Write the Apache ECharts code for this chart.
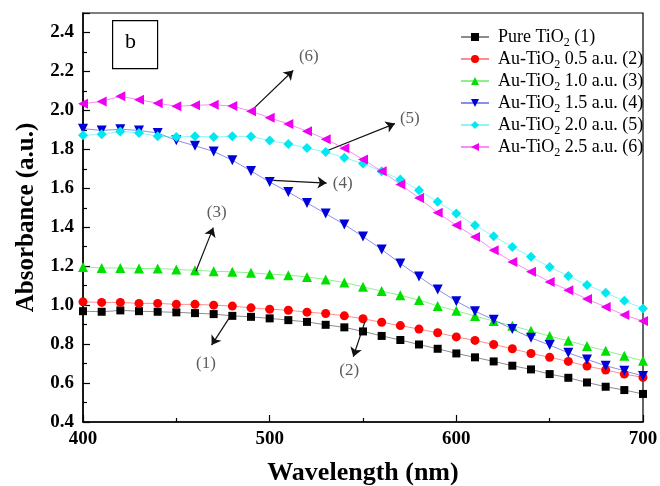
<!DOCTYPE html>
<html><head><meta charset="utf-8">
<script src="https://cdn.jsdelivr.net/npm/echarts@6/dist/echarts.min.js"></script>
<style>html,body{margin:0;padding:0;background:#fff}#c{width:660px;height:486px}</style>
</head><body><div id="c"></div>
<script>
const wavelengths = [400,410,420,430,440,450,460,470,480,490,500,510,520,530,540,550,560,570,580,590,600,610,620,630,640,650,660,670,680,690,700];
const pure = [0.969,0.966,0.973,0.969,0.966,0.963,0.959,0.954,0.945,0.940,0.932,0.923,0.914,0.899,0.886,0.865,0.842,0.821,0.798,0.776,0.752,0.732,0.711,0.689,0.670,0.646,0.627,0.603,0.581,0.564,0.544];
const au05 = [1.017,1.014,1.014,1.009,1.009,1.004,1.004,1.000,0.995,0.986,0.979,0.974,0.964,0.957,0.945,0.930,0.912,0.895,0.877,0.858,0.837,0.819,0.798,0.776,0.752,0.732,0.711,0.687,0.667,0.646,0.629];
const au10 = [1.196,1.191,1.191,1.188,1.188,1.183,1.179,1.174,1.171,1.166,1.159,1.154,1.145,1.132,1.116,1.094,1.072,1.051,1.026,0.996,0.971,0.944,0.918,0.894,0.868,0.841,0.817,0.790,0.766,0.740,0.714];
const au15 = [1.906,1.897,1.903,1.897,1.884,1.846,1.818,1.789,1.744,1.689,1.632,1.581,1.525,1.470,1.414,1.352,1.286,1.214,1.147,1.080,1.020,0.969,0.925,0.877,0.832,0.795,0.755,0.721,0.689,0.663,0.636];
const au20 = [1.872,1.877,1.892,1.884,1.867,1.863,1.867,1.863,1.867,1.866,1.845,1.828,1.807,1.786,1.757,1.727,1.687,1.645,1.590,1.531,1.470,1.410,1.354,1.299,1.248,1.196,1.150,1.103,1.063,1.022,0.983];
const au25 = [2.034,2.046,2.072,2.055,2.037,2.021,2.026,2.029,2.022,1.996,1.962,1.930,1.893,1.852,1.805,1.748,1.688,1.620,1.550,1.474,1.410,1.350,1.282,1.222,1.171,1.119,1.077,1.031,0.991,0.949,0.918];

const seriesNames = ['Pure TiO2 (1)','Au-TiO2 0.5 a.u. (2)','Au-TiO2 1.0 a.u. (3)','Au-TiO2 1.5 a.u. (4)','Au-TiO2 2.0 a.u. (5)','Au-TiO2 2.5 a.u. (6)'];
const legendPre = ['Pure TiO','Au-TiO','Au-TiO','Au-TiO','Au-TiO','Au-TiO'];
const legendPost = [' (1)',' 0.5 a.u. (2)',' 1.0 a.u. (3)',' 1.5 a.u. (4)',' 2.0 a.u. (5)',' 2.5 a.u. (6)'];
const seriesValues = [pure, au05, au10, au15, au20, au25];

const xTicks = [400,500,600,700];
const yTicks = [0.4,0.6,0.8,1.0,1.2,1.4,1.6,1.8,2.0,2.2,2.4];

// annotation arrows
const annLabels = ['(1)','(2)','(3)','(4)','(5)','(6)'];
const annFrom = [[478.7,0.940],[551,0.914],[460.5,1.174],[501.9,1.641],[531.4,1.795],[490.4,2.000]];
const annTo = [[468.9,0.795],[544.8,0.735],[469.8,1.398],[530.5,1.627],[567.1,1.932],[512.6,2.205]];
const annText = [[465.9,0.700],[542.6,0.662],[471.6,1.478],[539.1,1.624],[575.1,1.957],[521,2.277]];

const colors = ['#000000','#ff0000','#00e000','#0000d8','#00e8f0','#f000f0'];
const symbols = ['rect','circle','triangle','triangle','diamond','triangle'];
const symbolSizes = [8,9,10,10,10,10];
const symbolRot = [0,0,0,180,0,90];

const serif = '"Liberation Serif","Times New Roman",serif';

const series = seriesValues.map((vals,i)=>({
  name: seriesNames[i], type:'line',
  data: vals.map((v,j)=>[wavelengths[j], v]),
  symbol: symbols[i], symbolSize: symbolSizes[i], symbolRotate: symbolRot[i],
  showAllSymbol: true,
  itemStyle:{color: colors[i], opacity:1},
  lineStyle:{color: colors[i], width:1, opacity:0.45},
  z: 2+i, animation:false
}));

series.push({
  type:'line', name:'ann-arrows', data:[], silent:true, animation:false,
  markLine:{
    silent:true, symbol:['none','arrow'], symbolSize:9,
    lineStyle:{color:'#111', width:1.2, type:'solid'},
    label:{show:false},
    data: annFrom.map((f,i)=>[{coord:f},{coord:annTo[i]}]),
    animation:false
  }
});
series.push({
  type:'scatter', name:'ann-labels', symbolSize:0, silent:true, animation:false,
  data: annText.map((p,i)=>({value:p, name:annLabels[i]})),
  label:{show:true, position:'inside', formatter:p=>p.name, color:'#333', fontFamily:serif, fontSize:17}
});

const chart = echarts.init(document.getElementById('c'), null, {renderer:'canvas'});
chart.setOption({
  animation:false,
  backgroundColor:'#fff',
  grid:{left:83, right:17, top:13, bottom:64, containLabel:false, outerBoundsMode:'none',
        show:true, borderColor:'#000', borderWidth:1.2, backgroundColor:'transparent'},
  xAxis:{
    type:'value', min:xTicks[0], max:xTicks[xTicks.length-1], interval:100,
    axisLine:{show:true, lineStyle:{color:'#000', width:1.5}},
    axisTick:{show:true, inside:true, length:7, lineStyle:{color:'#000', width:1.2}},
    minorTick:{show:true, splitNumber:2, length:4, lineStyle:{color:'#000', width:1.2}},
    splitLine:{show:false},
    axisLabel:{color:'#000', fontFamily:serif, fontWeight:'bold', fontSize:19, margin:8},
    name:'Wavelength (nm)', nameLocation:'middle', nameGap:38,
    nameTextStyle:{color:'#000', fontFamily:serif, fontWeight:'bold', fontSize:26}
  },
  yAxis:{
    type:'value', min:0.4, max:2.5, interval:0.2,
    axisLine:{show:true, lineStyle:{color:'#000', width:1.5}},
    axisTick:{show:true, inside:true, length:7, lineStyle:{color:'#000', width:1.2}},
    minorTick:{show:true, splitNumber:2, length:4, lineStyle:{color:'#000', width:1.2}},
    splitLine:{show:false},
    axisLabel:{color:'#000', fontFamily:serif, fontWeight:'bold', fontSize:19, margin:9,
      formatter:v=> (yTicks.some(t=>Math.abs(t-v)<1e-6) ? v.toFixed(1) : '')},
    name:'Absorbance (a.u.)', nameLocation:'middle', nameGap:43,
    nameTextStyle:{color:'#000', fontFamily:serif, fontWeight:'bold', fontSize:25}
  },
  legend:{
    data: seriesNames, orient:'vertical', left:455, top:23,
    itemWidth:28, itemHeight:10, itemGap:1,
    formatter: name => { const i = seriesNames.indexOf(name); return '{n|'+legendPre[i]+'}{s|2}{n|'+legendPost[i]+'}'; },
    textStyle:{color:'#000', fontFamily:serif, fontSize:18, padding:[0,0,0,4],
      rich:{ n:{fontFamily:serif, fontSize:18, color:'#000', lineHeight:18, verticalAlign:'bottom'},
             s:{fontFamily:serif, fontSize:12, color:'#000', lineHeight:18, verticalAlign:'bottom', padding:[0,0,-3,0]} } }
  },
  graphic:[
    {type:'rect', left:112, top:20, shape:{width:45, height:48}, style:{fill:'#fff', stroke:'#000', lineWidth:1.2}, z:100},
    {type:'text', left:125, top:31, style:{text:'b', font:'22px '+serif, fill:'#000'}, z:101}
  ],
  series
});
</script></body></html>
